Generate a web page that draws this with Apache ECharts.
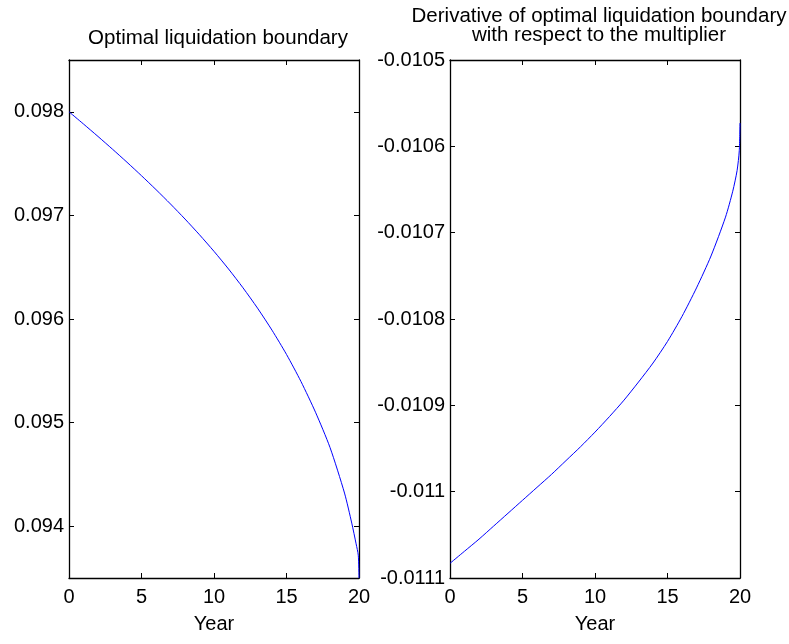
<!DOCTYPE html>
<html>
<head>
<meta charset="utf-8">
<script src="https://cdn.jsdelivr.net/npm/echarts@6/dist/echarts.min.js"></script>
<style>
html,body{margin:0;padding:0;background:#fff;}
#chart{width:789px;height:644px;}
</style>
</head>
<body>
<div id="chart"></div>
<script>
// ---- data ----
const years = [0,1,2,3,4,5,6,7,8,9,10,11,12,13,14,15,16,17,18,19,19.5,19.8,19.95,20];
const boundary = [0.098000,0.097882,0.097762,0.097639,0.097513,0.097383,0.097249,0.097110,0.096965,0.096813,
  0.096653,0.096483,0.096301,0.096105,0.095892,0.095658,0.095396,0.095100,0.094760,0.094320,
  0.094030,0.093830,0.093720,0.093500];
const derivative = [-0.011083,-0.011069,-0.011055,-0.011040,-0.011025,-0.011010,-0.010995,-0.010980,-0.010964,-0.010948,
  -0.010931,-0.010913,-0.010894,-0.010873,-0.010851,-0.010826,-0.010797,-0.010764,-0.010727,-0.010682,
  -0.010652,-0.010628,-0.010605,-0.010573];
const xTicks = [0,5,10,15,20];
const leftYTicks = [0.094,0.095,0.096,0.097,0.098];
const rightYTicks = [-0.0111,-0.0110,-0.0109,-0.0108,-0.0107,-0.0106,-0.0105];
const titleLeft = 'Optimal liquidation boundary';
const titleRight = 'Derivative of optimal liquidation boundary\nwith respect to the multiplier';
const xName = 'Year';

const FONT = 'Liberation Sans, Arial, sans-serif';
const FS = 20;
const TFS = 20.5;
const chart = echarts.init(document.getElementById('chart'), null, {renderer:'canvas'});

function mkX(grid, main){
  return {
    type:'value', gridIndex:grid, min:0, max:20, interval:5,
    position: main ? 'bottom' : 'top',
    name: main ? xName : '', nameLocation:'middle', nameGap:36,
    nameTextStyle:{color:'#000', fontFamily:FONT, fontSize:FS},
    axisLine:{show:true, onZero:false, lineStyle:{color:'#000', width:1.3}},
    axisTick:{show:true, inside:true, length:5, customValues:xTicks, lineStyle:{color:'#000', width:1}},
    axisLabel:{show:main, customValues:xTicks, color:'#000', fontFamily:FONT, fontSize:FS, margin:9,
      formatter:v=>String(v)},
    splitLine:{show:false}
  };
}
function mkY(grid, main, mn, mx, ticks){
  return {
    type:'value', gridIndex:grid, min:mn, max:mx,
    position: main ? 'left' : 'right',
    axisLine:{show:true, onZero:false, lineStyle:{color:'#000', width:1.3}},
    axisTick:{show:true, inside:true, length:5, customValues:ticks, lineStyle:{color:'#000', width:1}},
    axisLabel:{show:main, customValues:ticks, color:'#000', fontFamily:FONT, fontSize:FS, margin:5,
      formatter:v=>String(parseFloat(v.toFixed(4)))},
    splitLine:{show:false}
  };
}

const option = {
  backgroundColor:'#fff',
  animation:false,
  title:[
    {text:titleLeft, left:213, top:23, textAlign:'center',
     textStyle:{color:'#000', fontFamily:FONT, fontSize:TFS, fontWeight:'normal'}},
    {text:titleRight, left:594, top:2, textAlign:'center',
     textStyle:{color:'#000', fontFamily:FONT, fontSize:TFS, fontWeight:'normal', lineHeight:19}}
  ],
  grid:[
    {left:69, top:60, width:290, height:518},
    {left:450, top:60, width:290, height:518}
  ],
  xAxis:[mkX(0,true), mkX(0,false), mkX(1,true), mkX(1,false)],
  yAxis:[
    mkY(0,true,0.0935,0.0985,leftYTicks), mkY(0,false,0.0935,0.0985,leftYTicks),
    mkY(1,true,-0.0111,-0.0105,rightYTicks), mkY(1,false,-0.0111,-0.0105,rightYTicks)
  ],
  series:[
    {type:'line', xAxisIndex:0, yAxisIndex:0, data:years.map((t,i)=>[t,boundary[i]]),
     showSymbol:false, smooth:0.25, lineStyle:{color:'#0000ff', width:1}},
    {type:'line', xAxisIndex:2, yAxisIndex:2, data:years.map((t,i)=>[t,derivative[i]]),
     showSymbol:false, smooth:0.25, lineStyle:{color:'#0000ff', width:1}}
  ]
};
chart.setOption(option);
</script>
</body>
</html>
